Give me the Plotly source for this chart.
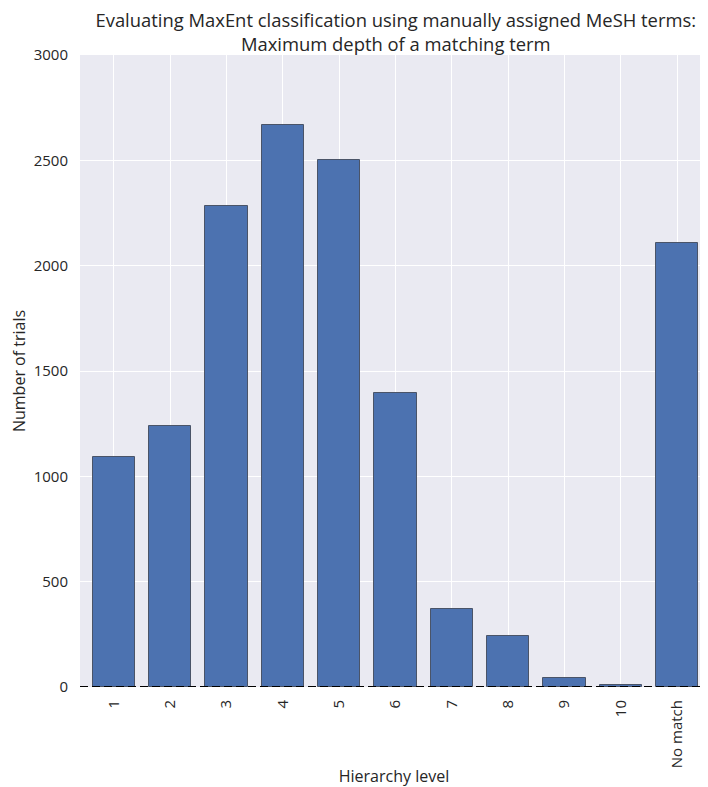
import plotly.graph_objects as go

categories = ["1", "2", "3", "4", "5", "6", "7", "8", "9", "10", "No match"]
trials = [1090, 1240, 2285, 2667, 2500, 1395, 370, 242, 41, 8, 2108]
y_ticks = [0, 500, 1000, 1500, 2000, 2500, 3000]

FONT = "Open Sans"
TXT = "#262626"

fig = go.Figure()
fig.add_trace(go.Bar(
    x=list(range(len(categories))),
    y=trials,
    width=0.75,
    marker=dict(color="#4C72B0", line=dict(color="#4a5468", width=1)),
))

fig.add_shape(type="line", xref="paper", yref="y", x0=0, x1=1, y0=0, y1=0,
              line=dict(color="black", width=2, dash="8px,4px"), layer="above")

fig.update_layout(
    width=700, height=779,
    margin=dict(l=72, r=0, t=47, b=100),
    paper_bgcolor="white",
    plot_bgcolor="#EAEAF2",
    showlegend=False,
    bargap=0,
    font=dict(family=FONT, size=15, color=TXT),
    title=dict(
        text="Evaluating MaxEnt classification using manually assigned MeSH terms:<br>Maximum depth of a matching term",
        x=0.554, xanchor="center", y=0.975, yanchor="middle",
        font=dict(family=FONT, size=18.4, color=TXT),
    ),
    xaxis=dict(
        range=[-0.6, 10.55],
        tickmode="array",
        tickvals=list(range(len(categories))),
        ticktext=categories,
        tickangle=-90,
        showgrid=True, gridcolor="white", gridwidth=1,
        zeroline=False, showline=False,
        ticks="outside", ticklen=6, tickcolor="rgba(0,0,0,0)",
        title=dict(text="Hierarchy level", font=dict(size=16, color=TXT), standoff=4),
        tickfont=dict(size=15, color=TXT),
    ),
    yaxis=dict(
        range=[0, 3000],
        tickmode="array",
        tickvals=y_ticks,
        showgrid=True, gridcolor="white", gridwidth=1,
        zeroline=False, showline=False,
        ticks="outside", ticklen=8, tickcolor="rgba(0,0,0,0)",
        title=dict(text="Number of trials", font=dict(size=16, color=TXT), standoff=8),
        tickfont=dict(size=15, color=TXT),
    ),
)

fig.write_html("out.html")
